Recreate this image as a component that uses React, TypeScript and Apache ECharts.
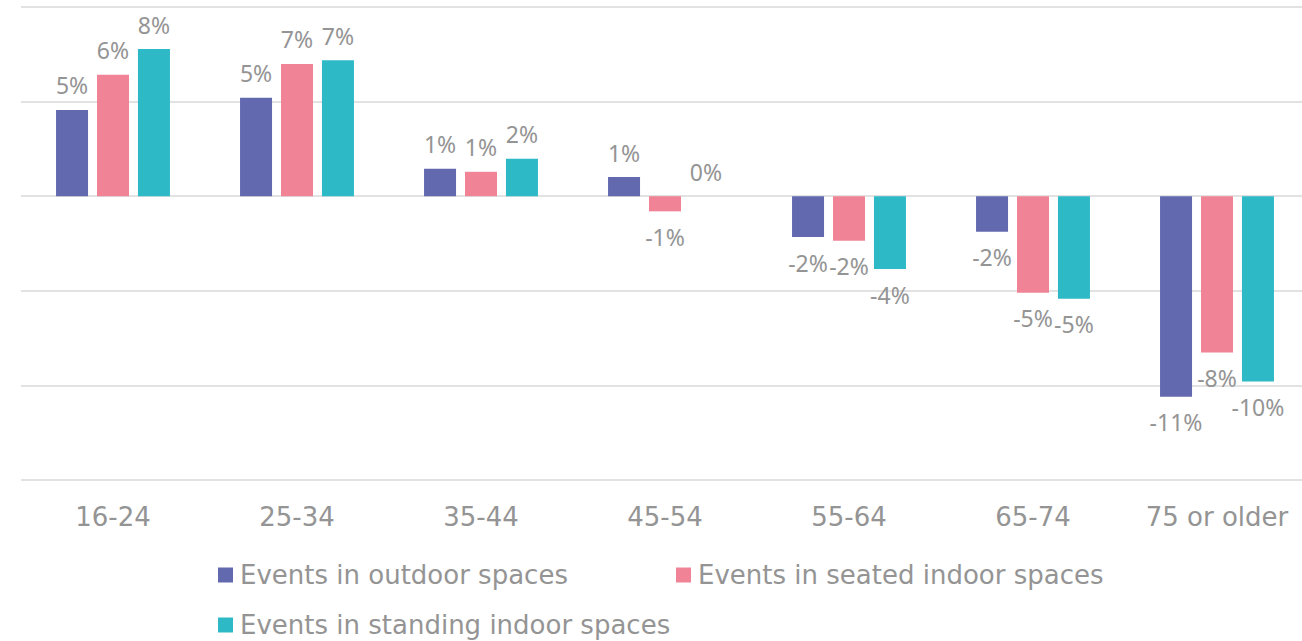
import React, { useEffect, useRef } from "react";
import * as echarts from "echarts";

const categories = ["16-24", "25-34", "35-44", "45-54", "55-64", "65-74", "75 or older"];
const seriesNames = [
  "Events in outdoor spaces",
  "Events in seated indoor spaces",
  "Events in standing indoor spaces",
];
const outdoor = [4.56, 5.21, 1.45, 1.01, -2.16, -1.88, -10.6];
const seated = [6.42, 6.99, 1.29, -0.8, -2.35, -5.1, -8.26];
const standing = [7.78, 7.18, 1.98, 0, -3.85, -5.42, -9.8];
const colors = ["#6369AF", "#F08496", "#2DB9C6"];

const FONT = "'DejaVu Sans', sans-serif";
const LABEL_FONT = "'Noto Sans', sans-serif";
const TEXT = "#949494";

export default function App() {
  const ref = useRef<HTMLDivElement>(null);
  useEffect(() => {
    if (!ref.current) return;
    const chart = echarts.init(ref.current, undefined, { renderer: "svg" });
    const all = [outdoor, seated, standing];
    const legendPos = [
      { left: 218, top: 562 },
      { left: 676, top: 562 },
      { left: 218, top: 612 },
    ];
    chart.setOption({
      animation: false,
      textStyle: { fontFamily: FONT },
      grid: { left: 21, top: 7, width: 1288, height: 473, containLabel: false },
      legend: seriesNames.map((n, i) => ({
        data: [n],
        left: legendPos[i].left,
        top: legendPos[i].top,
        icon: "rect",
        itemWidth: 15,
        itemHeight: 15,
        itemGap: 0,
        padding: 0,
        textStyle: { color: TEXT, fontSize: 26, fontFamily: FONT, padding: [0, 0, 0, 2] },
      })),
      xAxis: {
        type: "category",
        data: categories,
        axisLine: { show: false, onZero: false },
        axisTick: { show: false },
        axisLabel: { color: TEXT, fontSize: 26, margin: 24, fontFamily: FONT, interval: 0 },
      },
      yAxis: {
        type: "value",
        min: -15,
        max: 10,
        interval: 5,
        axisLabel: { show: false },
        axisLine: { show: false },
        axisTick: { show: false },
        splitLine: { lineStyle: { color: "#d9d9d9", width: 1.5 } },
      },
      series: all.map((vals, i) => ({
        type: "bar",
        name: seriesNames[i],
        barWidth: 32,
        barGap: "28%",
        itemStyle: { color: colors[i] },
        label: {
          show: true,
          color: TEXT,
          fontSize: 23,
          fontFamily: LABEL_FONT,
          formatter: (p: any) => {
            const r = Math.round(p.value);
            return (r === 0 ? 0 : r) + "%";
          },
        },
        data: vals.map((v) => ({
          value: v,
          label: { position: v < 0 ? "bottom" : "top", distance: v < 0 ? 14 : 13 },
        })),
      })),
    });
    return () => chart.dispose();
  }, []);
  return (
    <div
      ref={ref}
      style={{ position: "fixed", left: 0, top: 0, width: 1320, height: 641, background: "#fff" }}
    />
  );
}
